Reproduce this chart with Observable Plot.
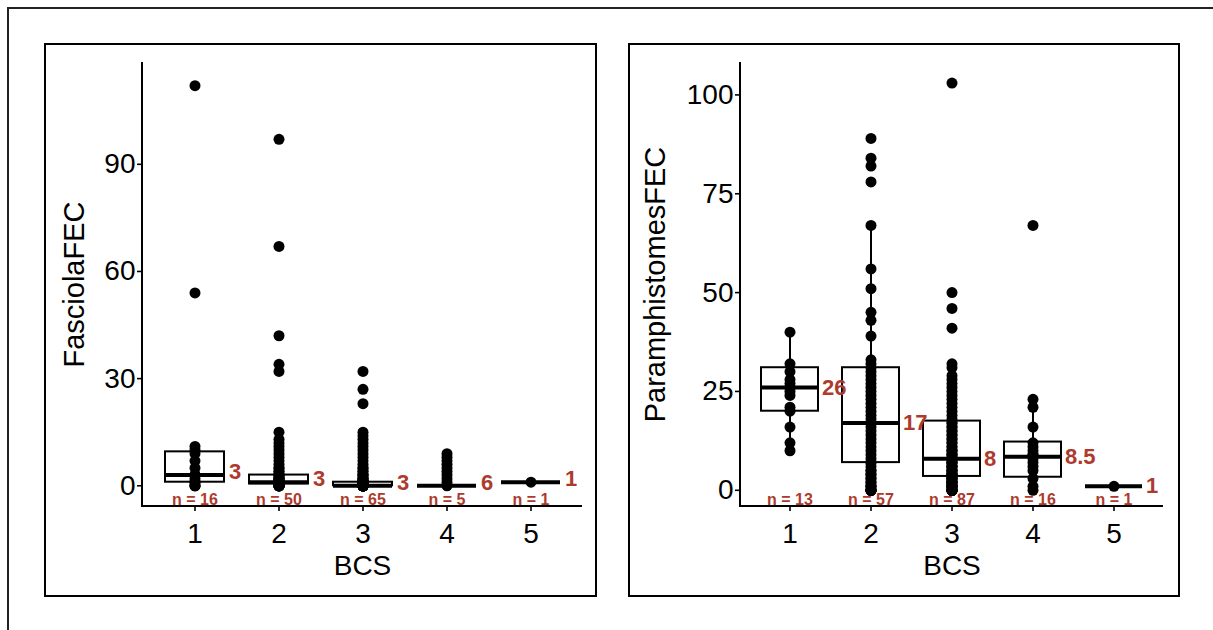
<!DOCTYPE html>
<html>
<head>
<meta charset="utf-8">
<script src="https://cdn.jsdelivr.net/npm/d3@7"></script>
<script src="https://cdn.jsdelivr.net/npm/@observablehq/plot@0.6"></script>
<style>
  html, body { margin: 0; padding: 0; background: #fff; overflow: hidden; width: 1213px; height: 630px; }
  .outer { position: absolute; left: 7px; top: 7px; width: 1400px; height: 800px; border: 2px solid #222; box-sizing: border-box; }
  .frame { position: absolute; border: 2px solid #000; box-sizing: border-box; pointer-events: none; }
  .panel { position: absolute; }
  .panel svg { overflow: visible; }
</style>
</head>
<body>
<div class="outer"></div>
<div class="panel" id="p1" style="left:45px; top:44px;"></div>
<div class="panel" id="p2" style="left:629px; top:44px;"></div>
<div class="frame" style="left:44px; top:43px; width:553px; height:554px;"></div>
<div class="frame" style="left:628px; top:43px; width:552px; height:554px;"></div>
<script>
// ---------- data ----------
const bcsCategories = ["1", "2", "3", "4", "5"];

// Fasciola FEC points per BCS group
const fasciolaBCS1 = [112, 54, 11, 10, 9, 7, 5, 3, 3, 3, 2, 1, 1, 0, 0, 0];
const fasciolaBCS2 = [97, 67, 42, 34, 32, 15, 13, 12, 11, 10, 9, 8, 7, 6, 5, 5, 4, 4, 3, 3, 3, 3, 2, 2, 2, 2, 2,
  1, 1, 1, 1, 1, 1, 1, 1, 1, 1, 1, 1, 1, 0, 0, 0, 0, 0, 0, 0, 0, 0, 0];
const fasciolaBCS3 = [32, 27, 23, 15, 14, 13, 12, 11, 10, 9, 8, 7, 6, 5, 5, 4, 4, 3, 3, 3, 2, 2, 2, 2,
  1, 1, 1, 1, 1, 1, 1, 1, 1, 1, 1, 1, 1, 1, 1,
  0, 0, 0, 0, 0, 0, 0, 0, 0, 0, 0, 0, 0, 0, 0, 0, 0, 0, 0, 0, 0, 0, 0, 0, 0, 0];
const fasciolaBCS4 = [9, 8, 7, 6, 5, 4, 3, 2, 1, 0];
const fasciolaBCS5 = [1];

// Fasciola box statistics
const fasciolaQ1 = [1, 0.5, 0, 0, 1];
const fasciolaMedian = [3, 1, 0, 0, 1];
const fasciolaQ3 = [9.5, 3, 1, 0, 1];
const fasciolaLow = [0, 0, 0, 0, 1];
const fasciolaHigh = [11, 6, 2, 0, 1];
const fasciolaLabels = ["3", "3", "3", "6", "1"];
const fasciolaN = [16, 50, 65, 5, 1];

// Paramphistomes FEC points per BCS group
const paraBCS1 = [40, 32, 30, 28, 27, 26, 25, 24, 21, 20, 16, 12, 10];
const paraBCS2 = [89, 84, 82, 78, 67, 56, 51, 45, 43, 39, 33, 32, 31, 30, 29, 28, 27, 26, 25, 24,
  23, 22, 21, 20, 19, 18, 17, 17, 16, 15, 14, 13, 12, 11, 10, 9, 8, 7, 7, 6,
  5, 5, 4, 4, 3, 3, 2, 2, 1, 1, 1, 0, 0, 0, 0, 0, 0];
const paraBCS3 = [103, 50, 46, 41, 32, 31, 29, 28, 27, 26, 25, 24, 23, 22, 21, 20, 19, 18, 17, 17,
  16, 16, 15, 15, 14, 14, 13, 13, 12, 12, 11, 11, 10, 10, 10, 9, 9, 9, 8, 8,
  8, 8, 7, 7, 7, 7, 6, 6, 6, 6, 5, 5, 5, 5, 4, 4, 4, 4, 4, 3,
  3, 3, 3, 3, 2, 2, 2, 2, 2, 2, 1, 1, 1, 1, 1, 1, 1, 0, 0, 0,
  0, 0, 0, 0, 0, 0, 0];
const paraBCS4 = [67, 23, 21, 16, 12, 11, 10, 9, 9, 8, 7, 6, 5, 3, 1, 0];
const paraBCS5 = [1];

// Paramphistomes box statistics
const paraQ1 = [20, 7, 3.5, 3.3, 1];
const paraMedian = [26, 17, 8, 8.5, 1];
const paraQ3 = [31, 31, 17.5, 12.2, 1];
const paraLow = [10, 0, 0, 0, 1];
const paraHigh = [40, 67, 32, 23, 1];
const paraLabels = ["26", "17", "8", "8.5", "1"];
const paraN = [13, 57, 87, 16, 1];

const fasciolaTicks = [0, 30, 60, 90];
const paraTicks = [0, 25, 50, 75, 100];

// ---------- helpers ----------
const RED = "#ad3a2d";
const FONT = "'Liberation Sans', Arial, Helvetica, sans-serif";

function points(groups) {
  const out = [];
  groups.forEach((g, i) => g.forEach(v => out.push({bcs: bcsCategories[i], v})));
  return out;
}
function boxes(q1, med, q3, lo, hi, labels, n) {
  return bcsCategories.map((c, i) => ({bcs: c, q1: q1[i], med: med[i], q3: q3[i], lo: lo[i], hi: hi[i], label: labels[i], n: n[i]}));
}

function panel({pts, bx, width, marginLeft, marginRight, yDomain, ticks, yLabel, yLabelDx, xLabelDy, labelDx, labelDy}) {
  const chart = Plot.plot({
    width, height: 553,
    marginLeft, marginRight, marginTop: 18, marginBottom: 91,
    style: {fontFamily: FONT, fontSize: "28px", background: "transparent", color: "#000", overflow: "visible"},
    x: {type: "band", domain: bcsCategories, paddingInner: 0.3, paddingOuter: 0.25, axis: null},
    y: {domain: yDomain, axis: null},
    marks: [
      Plot.axisY({ticks, tickSize: 5, tickPadding: 2, fontSize: 28, label: null, strokeWidth: 1.6}),
      Plot.axisX({tickSize: 5, tickPadding: 12, fontSize: 28, label: null, strokeWidth: 1.6}),
      Plot.ruleX(bx, {x: "bcs", y1: "lo", y2: "q1", stroke: "black", strokeWidth: 2}),
      Plot.ruleX(bx, {x: "bcs", y1: "q3", y2: "hi", stroke: "black", strokeWidth: 2}),
      Plot.barY(bx, {x: "bcs", y1: "q1", y2: "q3", fill: "none", stroke: "black", strokeWidth: 2}),
      Plot.tickY(bx, {x: "bcs", y: "med", stroke: "black", strokeWidth: 4}),
      Plot.dot(pts, {x: "bcs", y: "v", r: 5.5, fill: "black", stroke: null}),
      Plot.text(bx, {x: "bcs", y: "med", text: "label", dx: labelDx, dy: labelDy, textAnchor: "start", lineAnchor: "middle", fill: RED, fontWeight: "bold", fontSize: 22}),
      Plot.text(bx, {x: "bcs", text: d => "n = " + d.n, frameAnchor: "bottom", dy: -7, textAnchor: "middle", lineAnchor: "middle", fill: RED, fontWeight: "bold", fontSize: 16}),
      Plot.text([yLabel], {frameAnchor: "left", dx: yLabelDx, rotate: -90, textAnchor: "middle", lineAnchor: "middle", fontSize: 29, fill: "black"}),
      Plot.text(["BCS"], {frameAnchor: "bottom", dy: xLabelDy, textAnchor: "middle", lineAnchor: "middle", fontSize: 28, fill: "black"})
    ]
  });
  // axis lines along the frame's left and bottom edges
  const xr = chart.scale("x").range;
  const yr = chart.scale("y").range;
  const svg = d3.select(chart);
  svg.append("line").attr("x1", xr[0]).attr("x2", xr[0]).attr("y1", yr[0] + 1).attr("y2", yr[1])
    .attr("stroke", "black").attr("stroke-width", 2);
  svg.append("line").attr("x1", xr[0] - 1).attr("x2", xr[1]).attr("y1", yr[0]).attr("y2", yr[0])
    .attr("stroke", "black").attr("stroke-width", 2);
  return chart;
}

document.getElementById("p1").append(panel({
  pts: points([fasciolaBCS1, fasciolaBCS2, fasciolaBCS3, fasciolaBCS4, fasciolaBCS5]),
  bx: boxes(fasciolaQ1, fasciolaMedian, fasciolaQ3, fasciolaLow, fasciolaHigh, fasciolaLabels, fasciolaN),
  width: 552, marginLeft: 97, marginRight: 15,
  yDomain: [-5.8, 118.5], ticks: fasciolaTicks,
  yLabel: "FasciolaFEC", yLabelDx: -68, xLabelDy: 60, labelDx: 34, labelDy: -3
}));

document.getElementById("p2").append(panel({
  pts: points([paraBCS1, paraBCS2, paraBCS3, paraBCS4, paraBCS5]),
  bx: boxes(paraQ1, paraMedian, paraQ3, paraLow, paraHigh, paraLabels, paraN),
  width: 551, marginLeft: 111, marginRight: 17,
  yDomain: [-4.1, 108.2], ticks: paraTicks,
  yLabel: "ParamphistomesFEC", yLabelDx: -85, xLabelDy: 60, labelDx: 32, labelDy: 0
}));
</script>
</body>
</html>
